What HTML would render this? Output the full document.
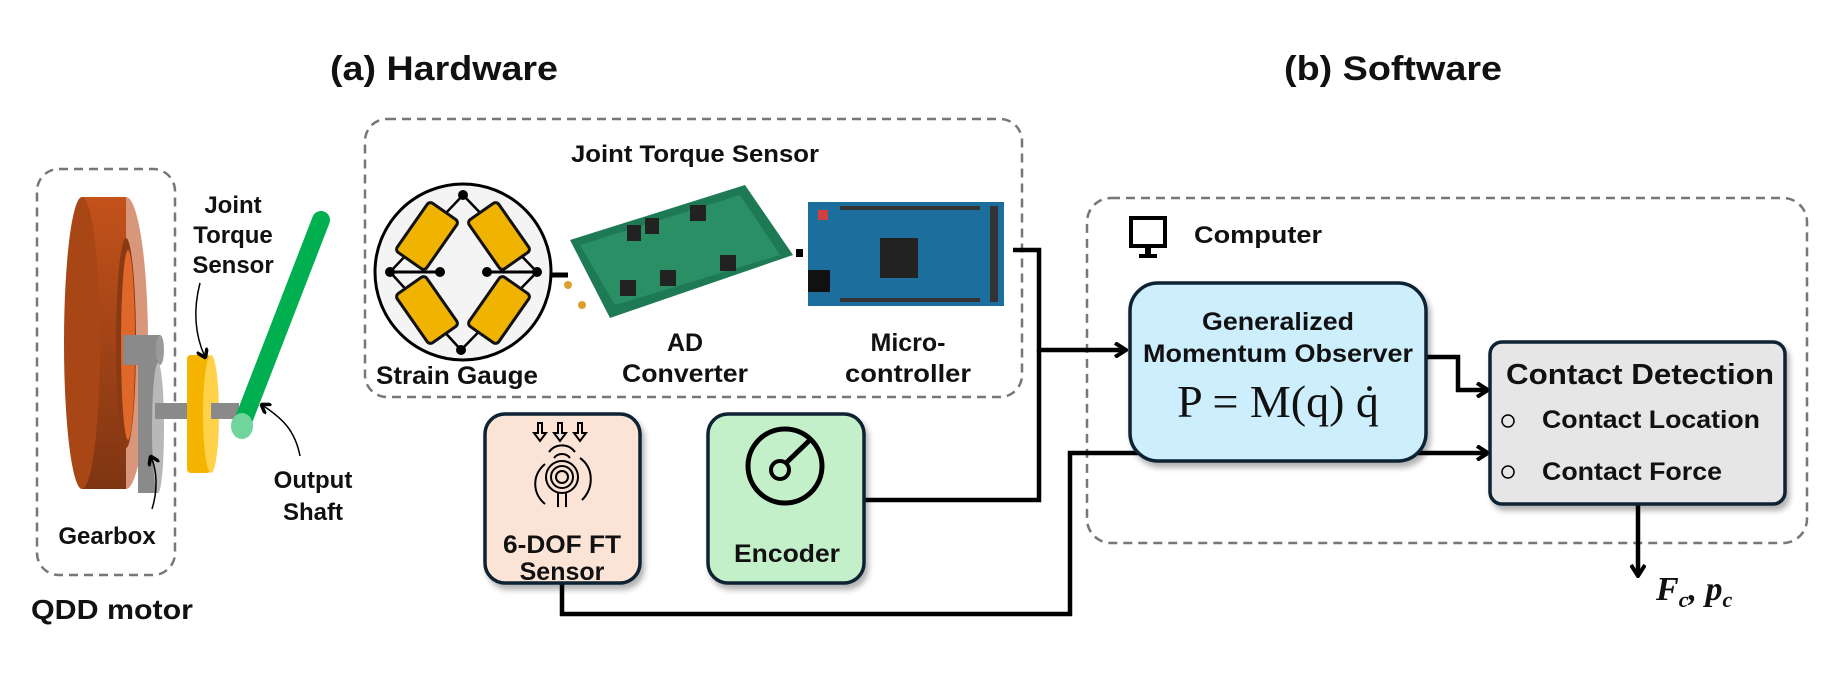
<!DOCTYPE html>
<html><head><meta charset="utf-8"><style>
html,body{margin:0;padding:0;background:#fff;}
svg{display:block;}
text{font-family:"Liberation Sans",sans-serif;font-weight:bold;fill:#111;}
</style></head><body>
<svg width="1830" height="684" viewBox="0 0 1830 684" xmlns="http://www.w3.org/2000/svg">
<defs>
<marker id="ah" markerWidth="10" markerHeight="12" refX="8" refY="6" orient="auto" markerUnits="userSpaceOnUse">
<path d="M0,0 L9,6 L0,12" fill="none" stroke="#000" stroke-width="3.5"/></marker>
<marker id="ah2" markerWidth="14" markerHeight="16" refX="12" refY="8" orient="auto" markerUnits="userSpaceOnUse">
<path d="M1,1 L12,8 L1,15" fill="none" stroke="#000" stroke-width="4"/></marker>
<linearGradient id="brown" x1="0" x2="0" y1="0" y2="1"><stop offset="0" stop-color="#c4521b"/><stop offset="1" stop-color="#7e3512"/></linearGradient>
<filter id="sh" x="-10%" y="-10%" width="130%" height="130%"><feDropShadow dx="3" dy="5" stdDeviation="3" flood-color="#000" flood-opacity="0.3"/></filter>
</defs>

<text x="330" y="80" font-size="34" textLength="228" lengthAdjust="spacingAndGlyphs">(a) Hardware</text>
<text x="1284" y="80" font-size="34" textLength="218" lengthAdjust="spacingAndGlyphs">(b) Software</text>

<rect x="37" y="169" width="138" height="406" rx="22" fill="none" stroke="#777" stroke-width="2.5" stroke-dasharray="9,6"/>
<rect x="365" y="119" width="657" height="278" rx="22" fill="none" stroke="#777" stroke-width="2.5" stroke-dasharray="9,6"/>
<rect x="1087" y="198" width="720" height="345" rx="24" fill="none" stroke="#777" stroke-width="2.5" stroke-dasharray="9,6"/>

<!-- motor -->
<ellipse cx="126" cy="343" rx="22" ry="146" fill="#d8967a"/>
<rect x="82" y="197" width="44" height="292" fill="url(#brown)"/>
<ellipse cx="82" cy="343" rx="18" ry="146" fill="#a84616"/>
<ellipse cx="126" cy="343" rx="10" ry="105" fill="#8a3a12"/>
<ellipse cx="128" cy="345" rx="7" ry="95" fill="#e0672a"/>
<rect x="123" y="335" width="37" height="30" fill="#8a8a8a"/>
<ellipse cx="160" cy="350" rx="4" ry="15" fill="#9a9a9a"/>
<rect x="138" y="360" width="20" height="133" fill="#8a8a8a"/>
<ellipse cx="158" cy="428" rx="6" ry="65" fill="#b8b8b8"/>
<rect x="155" y="403" width="84" height="16" fill="#8a8a8a"/>
<rect x="187" y="355" width="24" height="118" rx="4" fill="#f4b400"/>
<ellipse cx="211" cy="414" rx="8" ry="59" fill="#ffd24a"/>
<rect x="211" y="403" width="28" height="16" fill="#8a8a8a"/>
<line x1="321" y1="220" x2="242" y2="424" stroke="#00b050" stroke-width="18" stroke-linecap="round"/>
<ellipse cx="242" cy="426" rx="11" ry="13" fill="#6fd59a"/>
<text x="233" y="213" font-size="24" text-anchor="middle">Joint</text>
<text x="233" y="243" font-size="24" text-anchor="middle">Torque</text>
<text x="233" y="273" font-size="24" text-anchor="middle">Sensor</text>
<path d="M200,283 C193,310 195,335 205,357" fill="none" stroke="#000" stroke-width="1.5" marker-end="url(#ah)"/>
<path d="M300,456 C295,430 282,418 262,405" fill="none" stroke="#000" stroke-width="1.5" marker-end="url(#ah)"/>
<text x="313" y="488" font-size="24" text-anchor="middle">Output</text>
<text x="313" y="520" font-size="24" text-anchor="middle">Shaft</text>
<path d="M152,509 C158,490 157,470 151,457" fill="none" stroke="#000" stroke-width="1.5" marker-end="url(#ah)"/>
<text x="107" y="544" font-size="24" text-anchor="middle">Gearbox</text>
<text x="112" y="619" font-size="28" text-anchor="middle" textLength="162" lengthAdjust="spacingAndGlyphs">QDD motor</text>

<!-- JTS -->
<text x="695" y="162" font-size="24" text-anchor="middle" textLength="248" lengthAdjust="spacingAndGlyphs">Joint Torque Sensor</text>
<ellipse cx="463" cy="272" rx="88" ry="88" fill="#f4f4f4" stroke="#000" stroke-width="3"/>
<path d="M463,195 L537,272 L461,350 L390,272 Z" fill="none" stroke="#000" stroke-width="2.5"/>
<circle cx="463" cy="195" r="5"/><circle cx="537" cy="272" r="5"/><circle cx="461" cy="350" r="5"/><circle cx="390" cy="272" r="5"/>
<line x1="390" y1="272" x2="440" y2="272" stroke="#000" stroke-width="3"/><circle cx="440" cy="272" r="5"/>
<line x1="487" y1="272" x2="537" y2="272" stroke="#000" stroke-width="3"/><circle cx="487" cy="272" r="5"/>
<g fill="#f0b400" stroke="#111" stroke-width="3">
<rect x="-18" y="-30" width="36" height="60" rx="4" transform="translate(427,236) rotate(35)"/>
<rect x="-18" y="-30" width="36" height="60" rx="4" transform="translate(499,236) rotate(-35)"/>
<rect x="-18" y="-30" width="36" height="60" rx="4" transform="translate(427,310) rotate(-35)"/>
<rect x="-18" y="-30" width="36" height="60" rx="4" transform="translate(499,310) rotate(35)"/>
</g>
<line x1="552" y1="275" x2="568" y2="275" stroke="#000" stroke-width="5"/>
<polygon points="570,240 745,185 793,255 610,318" fill="#1e7a55"/>
<polygon points="580,245 740,195 780,255 615,305" fill="#2a8f64"/>
<rect x="627" y="225" width="14" height="16" fill="#222"/><rect x="645" y="218" width="14" height="16" fill="#222"/>
<rect x="690" y="205" width="16" height="16" fill="#222"/><rect x="620" y="280" width="16" height="16" fill="#222"/>
<rect x="660" y="270" width="16" height="16" fill="#222"/><rect x="720" y="255" width="16" height="16" fill="#222"/>
<circle cx="568" cy="285" r="4" fill="#d9a030"/><circle cx="582" cy="305" r="4" fill="#d9a030"/>
<rect x="796" y="249" width="7" height="8" fill="#000"/>
<rect x="808" y="202" width="196" height="104" fill="#1c6f9c"/>
<rect x="880" y="238" width="38" height="40" fill="#222"/>
<rect x="808" y="270" width="22" height="22" fill="#111"/>
<rect x="818" y="210" width="10" height="10" fill="#d04040"/>
<rect x="990" y="206" width="8" height="96" fill="#333"/>
<rect x="840" y="206" width="140" height="4" fill="#333"/><rect x="840" y="298" width="140" height="4" fill="#333"/>
<text x="457" y="384" font-size="25" text-anchor="middle" textLength="162" lengthAdjust="spacingAndGlyphs">Strain Gauge</text>
<text x="685" y="351" font-size="25" text-anchor="middle">AD</text>
<text x="685" y="382" font-size="25" text-anchor="middle" textLength="126" lengthAdjust="spacingAndGlyphs">Converter</text>
<text x="908" y="351" font-size="25" text-anchor="middle">Micro-</text>
<text x="908" y="382" font-size="25" text-anchor="middle" textLength="126" lengthAdjust="spacingAndGlyphs">controller</text>

<g fill="none" stroke="#000" stroke-width="4.5">
<polyline points="1013,250 1039,250 1039,350 1126,350" marker-end="url(#ah2)"/>
<polyline points="864,500 1039,500 1039,350"/>
<polyline points="562,583 562,614 1070,614 1070,453 1488,453" marker-end="url(#ah2)"/>
<polyline points="1426,357 1458,357 1458,390 1488,390" marker-end="url(#ah2)"/>
<polyline points="1638,504 1638,576" marker-end="url(#ah2)"/>
</g>

<rect x="485" y="414" width="155" height="169" rx="20" fill="#fbe4d6" stroke="#0e2233" stroke-width="3.5" filter="url(#sh)"/>
<g fill="none" stroke="#000" stroke-width="2">
<path d="M538,423 v10 h-4 l6,8 l6,-8 h-4 v-10z M558,423 v10 h-4 l6,8 l6,-8 h-4 v-10z M578,423 v10 h-4 l6,8 l6,-8 h-4 v-10z"/>
<circle cx="562" cy="477" r="16"/><circle cx="562" cy="477" r="11"/><circle cx="562" cy="477" r="6"/>
<path d="M554,458 a10,10 0 0 1 16,0 M549,452 a16,16 0 0 1 26,0"/>
<path d="M545,464 c-14,12 -12,30 0,40 M580,458 c14,10 14,30 2,42"/>
<path d="M558,493 v14 M566,493 v14"/>
</g>
<text x="562" y="553" font-size="25" text-anchor="middle" textLength="118" lengthAdjust="spacingAndGlyphs">6-DOF FT</text>
<text x="562" y="580" font-size="25" text-anchor="middle">Sensor</text>
<rect x="708" y="414" width="156" height="169" rx="20" fill="#c4f0c9" stroke="#0e2233" stroke-width="3.5" filter="url(#sh)"/>
<circle cx="785" cy="466" r="37" fill="none" stroke="#000" stroke-width="5"/>
<circle cx="780" cy="470" r="9" fill="none" stroke="#000" stroke-width="4"/>
<line x1="786" y1="463" x2="812" y2="438" stroke="#000" stroke-width="5"/>
<text x="787" y="562" font-size="25" text-anchor="middle" textLength="106" lengthAdjust="spacingAndGlyphs">Encoder</text>

<rect x="1131" y="218" width="34" height="28" fill="none" stroke="#000" stroke-width="4"/>
<rect x="1145" y="246" width="6" height="8" fill="#000"/><rect x="1139" y="254" width="18" height="4" fill="#000"/>
<text x="1194" y="243" font-size="24" textLength="128" lengthAdjust="spacingAndGlyphs">Computer</text>

<rect x="1130" y="283" width="296" height="178" rx="28" fill="#cdeefc" stroke="#0e2233" stroke-width="3.5" filter="url(#sh)"/>
<text x="1278" y="330" font-size="25" text-anchor="middle" textLength="152" lengthAdjust="spacingAndGlyphs">Generalized</text>
<text x="1278" y="362" font-size="25" text-anchor="middle" textLength="270" lengthAdjust="spacingAndGlyphs">Momentum Observer</text>
<text x="1278" y="417" font-size="46" text-anchor="middle" style="font-family:'Liberation Serif',serif;font-weight:normal">P = M(q) q̇</text>

<rect x="1490" y="342" width="295" height="162" rx="12" fill="#e6e6e6" stroke="#0e2233" stroke-width="3.5" filter="url(#sh)"/>
<text x="1506" y="384" font-size="29" textLength="268" lengthAdjust="spacingAndGlyphs">Contact Detection</text>
<circle cx="1508" cy="421" r="6" fill="none" stroke="#000" stroke-width="1.5"/>
<circle cx="1508" cy="472" r="6" fill="none" stroke="#000" stroke-width="1.5"/>
<text x="1542" y="428" font-size="25" textLength="218" lengthAdjust="spacingAndGlyphs">Contact Location</text>
<text x="1542" y="480" font-size="25" textLength="180" lengthAdjust="spacingAndGlyphs">Contact Force</text>

<text x="1656" y="600" font-size="34" style="font-family:'Liberation Serif',serif;font-style:italic">F<tspan font-size="22" dy="7">c</tspan><tspan dy="-7">, p</tspan><tspan font-size="22" dy="7">c</tspan></text>
</svg>
</body></html>
